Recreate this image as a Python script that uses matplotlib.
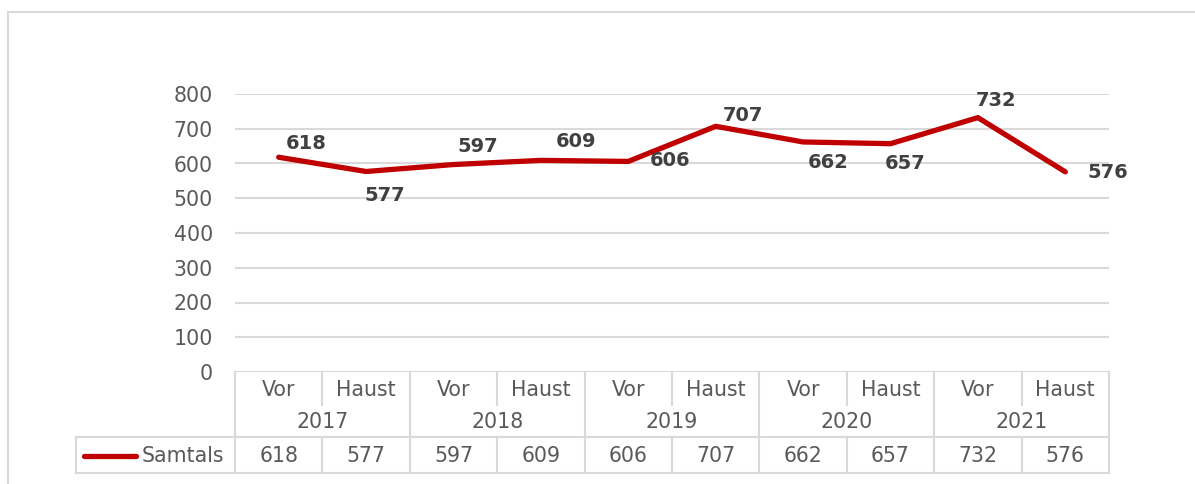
import matplotlib
matplotlib.use("Agg")
import matplotlib.pyplot as plt
from matplotlib.lines import Line2D
from matplotlib.transforms import blended_transform_factory

# ---- data ----
years = ["2017", "2018", "2019", "2020", "2021"]
halves = ["Vor", "Haust"]
series_name = "Samtals"
values = [618, 577, 597, 609, 606, 707, 662, 657, 732, 576]
yticks = [0, 100, 200, 300, 400, 500, 600, 700, 800]

# label offsets (pixels) - style only
label_offsets = [(27, 14), (19, -24), (24, 18), (35, 19), (42, 1),
                 (27, 11), (25, -21), (15, -20), (18, 17), (43, -1)]

W, H = 1195, 484
fig = plt.figure(figsize=(W / 100, H / 100), dpi=100)
plt.rcParams['font.family'] = ['DejaVu Sans']

GRID = "#d9d9d9"
TXT = "#595959"
RED = "#c00000"
FS = 14.8

L, R, T, B = 235, 1109, 94, 372
ax = fig.add_axes([L / W, 1 - B / H, (R - L) / W, (B - T) / H])
n = len(values)
xs = list(range(n))
ax.set_xlim(-0.5, n - 0.5)
ax.set_ylim(0, 800)
ax.set_yticks(yticks)
ax.set_yticklabels([str(v) for v in yticks], fontsize=FS, color=TXT)
ax.tick_params(axis='y', length=0, pad=16)
ax.set_xticks([])
for s in ax.spines.values():
    s.set_visible(False)
ax.grid(axis='y', color=GRID, linewidth=1.5)
ax.set_axisbelow(True)
ax.set_facecolor('none')

ax.plot(xs, values, color=RED, linewidth=3.8, solid_capstyle='round',
        solid_joinstyle='round', zorder=3)

for x, v, (dx, dy) in zip(xs, values, label_offsets):
    ax.annotate(str(v), (x, v), xytext=(dx * 0.72, dy * 0.72),
                textcoords='offset points', ha='center', va='center',
                fontsize=14, fontweight='bold', color="#404040")

# ---- data table below axes ----
tr = blended_transform_factory(ax.transData, fig.transFigure)
ftr = fig.transFigure

def fy(py):
    return 1 - py / H

def fx(px):
    return px / W

y0, y1, y2, y3 = 372, 405, 437, 473
lw = 1.5

def hline(x_a, x_b, py, transform):
    fig.add_artist(Line2D([x_a, x_b], [fy(py), fy(py)], transform=transform,
                          color=GRID, linewidth=lw, clip_on=False))

def vline(x, pa, pb, transform):
    fig.add_artist(Line2D([x, x], [fy(pa), fy(pb)], transform=transform,
                          color=GRID, linewidth=lw, clip_on=False))

# horizontal lines
hline(fx(76), fx(R), y2, ftr)
hline(fx(76), fx(R), y3, ftr)
vline(fx(76), y2, y3, ftr)

# vertical lines
for i in range(n + 1):
    xb = i - 0.5
    if i % 2 == 0:
        vline(xb, y0, y3, tr)
    else:
        vline(xb, y0, y1, tr)
        vline(xb, y2, y3, tr)

for i in range(n):
    fig.text(i, fy((y0 + y1) / 2 + 1), halves[i % 2], transform=tr,
             ha='center', va='center', fontsize=FS, color=TXT)
    fig.text(i, fy((y2 + y3) / 2 + 1), str(values[i]), transform=tr,
             ha='center', va='center', fontsize=FS, color=TXT)
for j, yr in enumerate(years):
    fig.text(2 * j + 0.5, fy((y1 + y2) / 2 + 1), yr, transform=tr,
             ha='center', va='center', fontsize=FS, color=TXT)

# legend key in table
fig.add_artist(Line2D([fx(84), fx(136)], [fy(456), fy(456)], transform=ftr,
                      color=RED, linewidth=3.8, solid_capstyle='round'))
fig.text(fx(142), fy(456), series_name, ha='left', va='center',
         fontsize=FS, color=TXT)

# outer chart border
fig.add_artist(Line2D([fx(8), fx(1195)], [fy(12), fy(12)], transform=ftr,
                      color=GRID, linewidth=1.5))
fig.add_artist(Line2D([fx(8), fx(8)], [fy(12), fy(484)], transform=ftr,
                      color=GRID, linewidth=1.5))

fig.savefig("out.png", dpi=100)
